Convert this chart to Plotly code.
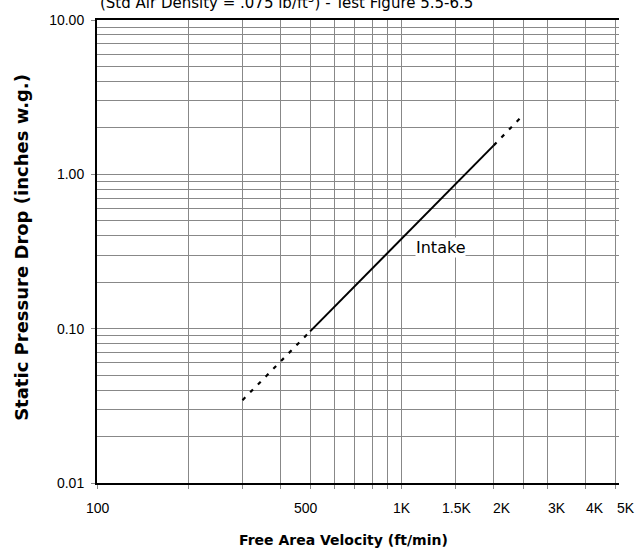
import math
import plotly.graph_objects as go

# ---- data ----
solid_velocity = [500, 1000, 1500, 2000]
solid_pressure = [0.096, 0.385, 0.87, 1.54]
low_dash_velocity = [300, 500]
low_dash_pressure = [0.0344, 0.096]
high_dash_velocity = [2000, 2430]
high_dash_pressure = [1.54, 2.29]

x_grid_values = [100, 200, 300, 400, 500, 600, 700, 800, 900, 1000,
                 1500, 2000, 2500, 3000, 4000, 5000]
x_label_values = [100, 500, 1000, 1500, 2000, 3000, 4000, 5000]
x_label_text = ["100", "500", "1K", "1.5K", "2K", "3K", "4K", "5K"]
x_label_shift = [1, -4, 0, 1, 8, 10, 9, 11]

y_tick_values = [0.01, 0.1, 1, 10]
y_tick_text = ["0.01", "0.10", "1.00", "10.00"]
y_minor_values = [m * d for d in (0.01, 0.1, 1) for m in range(2, 10)]

label_name = "Intake"
label_pos = (1340, 0.335)

GRID = "#888888"
TICKFONT = dict(family="Liberation Sans, Arial, sans-serif", size=14, color="#000")
TITLEFONT = "DejaVu Sans, Verdana, sans-serif"

fig = go.Figure()
fig.add_trace(go.Scatter(x=solid_velocity, y=solid_pressure, mode="lines",
                         line=dict(color="#000", width=2), showlegend=False, hoverinfo="skip"))
for xs, ys in ((low_dash_velocity, low_dash_pressure), (high_dash_velocity, high_dash_pressure)):
    fig.add_trace(go.Scatter(x=xs, y=ys, mode="lines",
                             line=dict(color="#000", width=2.2, dash="4px,7px"),
                             showlegend=False, hoverinfo="skip"))

fig.update_xaxes(type="log", range=[2, math.log10(5150)],
                 tickmode="array", tickvals=x_grid_values, showticklabels=False,
                 ticks="outside", ticklen=4, tickcolor="#888", tickwidth=1,
                 showgrid=True, gridcolor=GRID, gridwidth=1,
                 showline=True, linecolor="#000", linewidth=2, mirror=True,
                 zeroline=False)
fig.update_yaxes(type="log", range=[-2, 1],
                 tickmode="array", tickvals=y_tick_values, ticktext=y_tick_text,
                 ticks="outside", ticklen=4, tickcolor="#888", tickwidth=1,
                 tickfont=TICKFONT, ticklabelstandoff=4,
                 showgrid=True, gridcolor=GRID, gridwidth=1,
                 minor=dict(tickmode="array", tickvals=y_minor_values, showgrid=True,
                            gridcolor=GRID, gridwidth=1, ticks=""),
                 showline=True, linecolor="#000", linewidth=2, mirror=False,
                 zeroline=False)

annotations = []
for v, t, s in zip(x_label_values, x_label_text, x_label_shift):
    annotations.append(dict(x=math.log10(v), y=0, xref="x", yref="paper",
                            text=t, showarrow=False, xanchor="center", yanchor="middle",
                            yshift=-25, xshift=s, font=TICKFONT))

annotations.append(dict(x=math.log10(label_pos[0]), y=math.log10(label_pos[1]),
                        xref="x", yref="y", text=label_name, showarrow=False,
                        bgcolor="#fff", borderpad=0,
                        font=dict(family=TITLEFONT, size=16, color="#000")))

annotations.append(dict(x=0.473, y=-0.1237, xref="paper", yref="paper",
                        text="<b>Free Area Velocity (ft/min)</b>", showarrow=False,
                        xanchor="center", yanchor="middle",
                        font=dict(family=TITLEFONT, size=14, color="#000")))
annotations.append(dict(x=-0.1437, y=0.51, xref="paper", yref="paper",
                        text="<b>Static Pressure Drop (inches w.g.)</b>", showarrow=False,
                        textangle=-90, xanchor="center", yanchor="middle",
                        font=dict(family=TITLEFONT, size=18, color="#000")))
annotations.append(dict(x=0.002, y=1.0134, xref="paper", yref="paper",
                        text="(Std Air Density = .075 lb/ft<sup>3</sup>) - Test Figure 5.5-6.5",
                        showarrow=False, xanchor="left", yanchor="bottom",
                        font=dict(family=TITLEFONT, size=15, color="#000")))

fig.update_layout(width=636, height=552,
                  margin=dict(l=97, r=17, t=14, b=69, pad=0),
                  paper_bgcolor="#fff", plot_bgcolor="#fff",
                  annotations=annotations, showlegend=False)

fig.write_html("out.html", config={"displayModeBar": False},
               post_script="document.body.style.margin='0';")
